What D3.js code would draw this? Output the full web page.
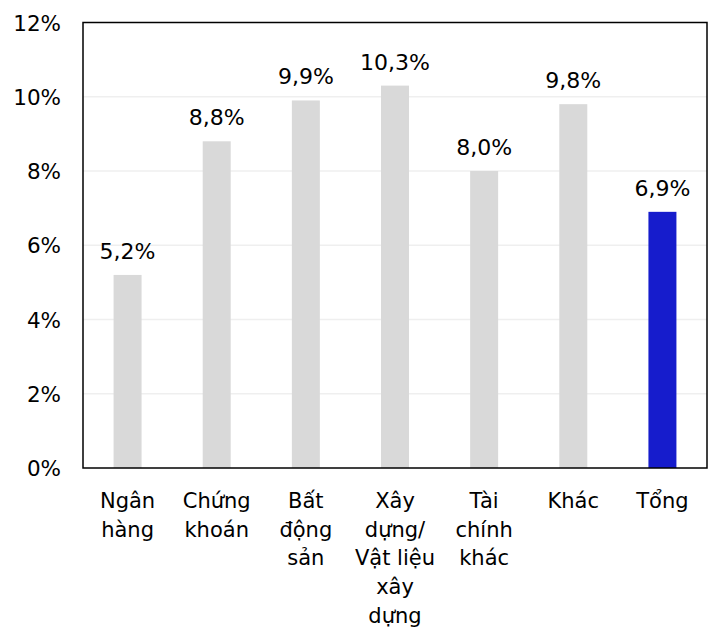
<!DOCTYPE html>
<html><head><meta charset="utf-8">
<script src="https://cdn.jsdelivr.net/npm/d3@7"></script>
<style>body{margin:0;background:#fff;} text{font-family:"DejaVu Sans",sans-serif;}</style>
</head><body>
<svg id="c" width="713" height="628"></svg>
<script>
const categories = [
  ["Ngân","hàng"],
  ["Chứng","khoán"],
  ["Bất","động","sản"],
  ["Xây","dựng/","Vật liệu","xây","dựng"],
  ["Tài","chính","khác"],
  ["Khác"],
  ["Tổng"]
];
const values = [5.2, 8.8, 9.9, 10.3, 8.0, 9.8, 6.9];
const valueLabels = ["5,2%","8,8%","9,9%","10,3%","8,0%","9,8%","6,9%"];
const yTicks = [0,2,4,6,8,10,12];

(function(){
const svg = d3.select("#c");
const mL = 83, mR = 707, mT = 22.5, mB = 468;
const x = d3.scaleBand().domain(d3.range(values.length)).range([mL,mR]).paddingInner(0.686).paddingOuter(0.343);
const y = d3.scaleLinear().domain([0,12]).range([mB, mT]);

// gridlines
svg.append("g").selectAll("line").data(yTicks.slice(1,-1)).join("line")
  .attr("x1",mL).attr("x2",mR).attr("y1",d=>y(d)).attr("y2",d=>y(d))
  .attr("stroke","#efefef").attr("stroke-width",1.5);

// bars
svg.append("g").selectAll("rect").data(values).join("rect")
  .attr("x",(d,i)=>x(i)).attr("width",x.bandwidth())
  .attr("y",d=>y(d)).attr("height",d=>y(0)-y(d))
  .attr("fill",(d,i)=>i===values.length-1?"#161ccc":"#d9d9d9");

// value labels
svg.append("g").selectAll("text").data(values).join("text")
  .attr("x",(d,i)=>x(i)+x.bandwidth()/2).attr("y",d=>y(d)-16)
  .attr("text-anchor","middle").attr("font-size",22).attr("fill","#000")
  .text((d,i)=>valueLabels[i]);

// border
svg.append("rect").attr("x",mL).attr("y",mT).attr("width",mR-mL).attr("height",mB-mT)
  .attr("fill","none").attr("stroke","#000").attr("stroke-width",1.5);

// y axis
const ya = svg.append("g").attr("transform",`translate(${mL},0)`)
  .call(d3.axisLeft(y).tickValues(yTicks).tickSize(0).tickPadding(22).tickFormat(d=>d+"%"));
ya.select(".domain").remove();
ya.selectAll("text").attr("font-size",21.5).attr("fill","#000").attr("font-family","DejaVu Sans").attr("dy","0.35em");

// x axis labels
const xa = svg.append("g");
categories.forEach((lines,i)=>{
  const cx = x(i)+x.bandwidth()/2;
  const t = xa.append("text").attr("x",cx).attr("y",508)
    .attr("text-anchor","middle").attr("font-size",21).attr("fill","#000");
  lines.forEach((l,j)=>t.append("tspan").attr("x",cx).attr("y",508+j*28.7).text(l));
});
})();
</script>
</body></html>
